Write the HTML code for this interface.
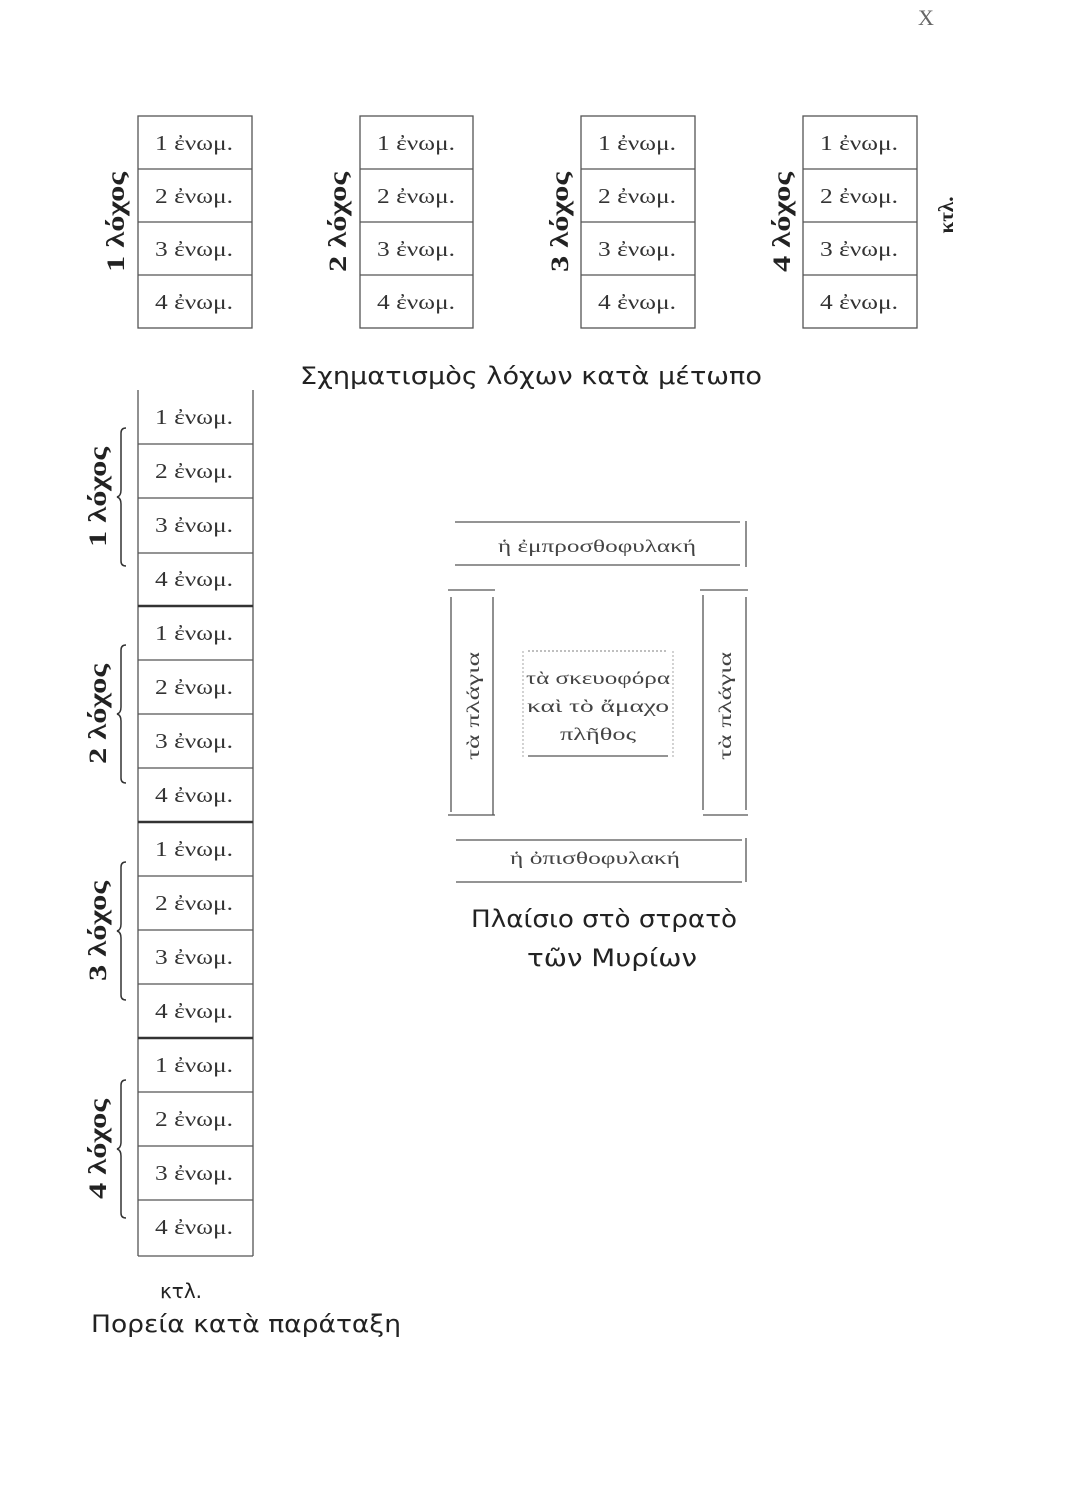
<!DOCTYPE html>
<html><head><meta charset="utf-8"><style>
html,body{margin:0;padding:0;background:#fff;}
svg{display:block;}
text{font-family:"Liberation Serif","DejaVu Serif",serif;fill:#333;}
.c{font-size:21px;}
.b{font-size:25px;font-weight:bold;fill:#222;}
.t{font-size:24px;fill:#222;font-family:"DejaVu Sans","Liberation Sans",sans-serif;}
.s{font-size:18px;fill:#444;}
</style></head><body>
<svg width="1090" height="1500" viewBox="0 0 1090 1500" xmlns="http://www.w3.org/2000/svg">
<rect width="1090" height="1500" fill="#fff"/>
<text x="918" y="25" style="font-size:22px;fill:#666" font-family="Liberation Sans">X</text>

<g stroke="#555" stroke-width="1.3" fill="none">
  <rect x="138" y="116" width="114" height="212"/>
  <line x1="138" y1="169" x2="252" y2="169"/><line x1="138" y1="222" x2="252" y2="222"/><line x1="138" y1="275" x2="252" y2="275"/>
  <rect x="360" y="116" width="113" height="212"/>
  <line x1="360" y1="169" x2="473" y2="169"/><line x1="360" y1="222" x2="473" y2="222"/><line x1="360" y1="275" x2="473" y2="275"/>
  <rect x="581" y="116" width="114" height="212"/>
  <line x1="581" y1="169" x2="695" y2="169"/><line x1="581" y1="222" x2="695" y2="222"/><line x1="581" y1="275" x2="695" y2="275"/>
  <rect x="803" y="116" width="114" height="212"/>
  <line x1="803" y1="169" x2="917" y2="169"/><line x1="803" y1="222" x2="917" y2="222"/><line x1="803" y1="275" x2="917" y2="275"/>
</g>
<g lengthAdjust="spacingAndGlyphs">
  <text class="c" x="155" y="150" textLength="78" lengthAdjust="spacingAndGlyphs">1 ἐνωμ.</text><text class="c" x="155" y="203" textLength="78" lengthAdjust="spacingAndGlyphs">2 ἐνωμ.</text><text class="c" x="155" y="256" textLength="78" lengthAdjust="spacingAndGlyphs">3 ἐνωμ.</text><text class="c" x="155" y="309" textLength="78" lengthAdjust="spacingAndGlyphs">4 ἐνωμ.</text>
  <text class="c" x="377" y="150" textLength="78" lengthAdjust="spacingAndGlyphs">1 ἐνωμ.</text><text class="c" x="377" y="203" textLength="78" lengthAdjust="spacingAndGlyphs">2 ἐνωμ.</text><text class="c" x="377" y="256" textLength="78" lengthAdjust="spacingAndGlyphs">3 ἐνωμ.</text><text class="c" x="377" y="309" textLength="78" lengthAdjust="spacingAndGlyphs">4 ἐνωμ.</text>
  <text class="c" x="598" y="150" textLength="78" lengthAdjust="spacingAndGlyphs">1 ἐνωμ.</text><text class="c" x="598" y="203" textLength="78" lengthAdjust="spacingAndGlyphs">2 ἐνωμ.</text><text class="c" x="598" y="256" textLength="78" lengthAdjust="spacingAndGlyphs">3 ἐνωμ.</text><text class="c" x="598" y="309" textLength="78" lengthAdjust="spacingAndGlyphs">4 ἐνωμ.</text>
  <text class="c" x="820" y="150" textLength="78" lengthAdjust="spacingAndGlyphs">1 ἐνωμ.</text><text class="c" x="820" y="203" textLength="78" lengthAdjust="spacingAndGlyphs">2 ἐνωμ.</text><text class="c" x="820" y="256" textLength="78" lengthAdjust="spacingAndGlyphs">3 ἐνωμ.</text><text class="c" x="820" y="309" textLength="78" lengthAdjust="spacingAndGlyphs">4 ἐνωμ.</text>
</g>
<text class="b" transform="translate(124,222) rotate(-90)" text-anchor="middle" textLength="100" lengthAdjust="spacingAndGlyphs">1 λόχος</text>
<text class="b" transform="translate(346,222) rotate(-90)" text-anchor="middle" textLength="100" lengthAdjust="spacingAndGlyphs">2 λόχος</text>
<text class="b" transform="translate(568,222) rotate(-90)" text-anchor="middle" textLength="100" lengthAdjust="spacingAndGlyphs">3 λόχος</text>
<text class="b" transform="translate(790,222) rotate(-90)" text-anchor="middle" textLength="100" lengthAdjust="spacingAndGlyphs">4 λόχος</text>
<text class="b" transform="translate(953,215) rotate(-90)" text-anchor="middle" style="font-size:21px">κτλ.</text>

<text class="t" x="300" y="384" textLength="462" lengthAdjust="spacingAndGlyphs">Σχηματισμὸς λόχων κατὰ μέτωπο</text>

<g stroke="#555" stroke-width="1.3" fill="none">
  <line x1="138" y1="390" x2="138" y2="1256"/><line x1="253" y1="390" x2="253" y2="1256"/>
  <line x1="138" y1="1256" x2="253" y2="1256"/>
  <line x1="138" y1="444" x2="253" y2="444"/><line x1="138" y1="498" x2="253" y2="498"/><line x1="138" y1="553" x2="253" y2="553"/>
  <line x1="138" y1="660" x2="253" y2="660"/><line x1="138" y1="714" x2="253" y2="714"/><line x1="138" y1="768" x2="253" y2="768"/>
  <line x1="138" y1="876" x2="253" y2="876"/><line x1="138" y1="930" x2="253" y2="930"/><line x1="138" y1="984" x2="253" y2="984"/>
  <line x1="138" y1="1092" x2="253" y2="1092"/><line x1="138" y1="1146" x2="253" y2="1146"/><line x1="138" y1="1200" x2="253" y2="1200"/>
</g>
<g stroke="#333" stroke-width="2.6">
  <line x1="138" y1="606" x2="253" y2="606"/><line x1="138" y1="822" x2="253" y2="822"/><line x1="138" y1="1038" x2="253" y2="1038"/>
</g>
<g>
  <text class="c" x="155" y="424" textLength="78" lengthAdjust="spacingAndGlyphs">1 ἐνωμ.</text><text class="c" x="155" y="478" textLength="78" lengthAdjust="spacingAndGlyphs">2 ἐνωμ.</text><text class="c" x="155" y="532" textLength="78" lengthAdjust="spacingAndGlyphs">3 ἐνωμ.</text><text class="c" x="155" y="586" textLength="78" lengthAdjust="spacingAndGlyphs">4 ἐνωμ.</text>
  <text class="c" x="155" y="640" textLength="78" lengthAdjust="spacingAndGlyphs">1 ἐνωμ.</text><text class="c" x="155" y="694" textLength="78" lengthAdjust="spacingAndGlyphs">2 ἐνωμ.</text><text class="c" x="155" y="748" textLength="78" lengthAdjust="spacingAndGlyphs">3 ἐνωμ.</text><text class="c" x="155" y="802" textLength="78" lengthAdjust="spacingAndGlyphs">4 ἐνωμ.</text>
  <text class="c" x="155" y="856" textLength="78" lengthAdjust="spacingAndGlyphs">1 ἐνωμ.</text><text class="c" x="155" y="910" textLength="78" lengthAdjust="spacingAndGlyphs">2 ἐνωμ.</text><text class="c" x="155" y="964" textLength="78" lengthAdjust="spacingAndGlyphs">3 ἐνωμ.</text><text class="c" x="155" y="1018" textLength="78" lengthAdjust="spacingAndGlyphs">4 ἐνωμ.</text>
  <text class="c" x="155" y="1072" textLength="78" lengthAdjust="spacingAndGlyphs">1 ἐνωμ.</text><text class="c" x="155" y="1126" textLength="78" lengthAdjust="spacingAndGlyphs">2 ἐνωμ.</text><text class="c" x="155" y="1180" textLength="78" lengthAdjust="spacingAndGlyphs">3 ἐνωμ.</text><text class="c" x="155" y="1234" textLength="78" lengthAdjust="spacingAndGlyphs">4 ἐνωμ.</text>
</g>
<g stroke="#333" stroke-width="1.5" fill="none">
  <path d="M126,428 Q121,428 121,433 L121,490 Q121,496 117,497 Q121,498 121,504 L121,561 Q121,566 126,566"/>
  <path d="M126,645 Q121,645 121,650 L121,707 Q121,713 117,714 Q121,715 121,721 L121,778 Q121,783 126,783"/>
  <path d="M126,862 Q121,862 121,867 L121,924 Q121,930 117,931 Q121,932 121,938 L121,995 Q121,1000 126,1000"/>
  <path d="M126,1080 Q121,1080 121,1085 L121,1142 Q121,1148 117,1149 Q121,1150 121,1156 L121,1213 Q121,1218 126,1218"/>
</g>
<text class="b" transform="translate(106,497) rotate(-90)" text-anchor="middle" textLength="100" lengthAdjust="spacingAndGlyphs">1 λόχος</text>
<text class="b" transform="translate(106,714) rotate(-90)" text-anchor="middle" textLength="100" lengthAdjust="spacingAndGlyphs">2 λόχος</text>
<text class="b" transform="translate(106,931) rotate(-90)" text-anchor="middle" textLength="100" lengthAdjust="spacingAndGlyphs">3 λόχος</text>
<text class="b" transform="translate(106,1149) rotate(-90)" text-anchor="middle" textLength="100" lengthAdjust="spacingAndGlyphs">4 λόχος</text>

<text class="t" x="160" y="1298" style="font-size:20px">κτλ.</text>
<text class="t" x="91" y="1332" textLength="310" lengthAdjust="spacingAndGlyphs">Πορεία κατὰ παράταξη</text>

<g stroke="#555" stroke-width="1.3" fill="none">
  <line x1="455" y1="522" x2="740" y2="522"/><line x1="455" y1="565" x2="740" y2="565"/><line x1="746" y1="521" x2="746" y2="567"/>
  <line x1="448" y1="590" x2="495" y2="590"/><line x1="451" y1="597" x2="451" y2="812"/><line x1="493" y1="597" x2="493" y2="815"/><line x1="448" y1="815" x2="495" y2="815"/>
  <line x1="700" y1="590" x2="748" y2="590"/><line x1="703" y1="595" x2="703" y2="810"/><line x1="746" y1="597" x2="746" y2="810"/><line x1="703" y1="815" x2="748" y2="815"/>
  <line x1="528" y1="651" x2="668" y2="651" stroke-dasharray="2,2" stroke="#999"/>
  <line x1="523" y1="651" x2="523" y2="757" stroke-dasharray="2,2" stroke="#bbb"/>
  <line x1="673" y1="651" x2="673" y2="757" stroke-dasharray="2,2" stroke="#bbb"/>
  <line x1="528" y1="756" x2="668" y2="756"/>
  <line x1="456" y1="840" x2="742" y2="840"/><line x1="746" y1="838" x2="746" y2="882"/><line x1="456" y1="882" x2="742" y2="882"/>
</g>
<text class="s" x="498" y="552" textLength="198" lengthAdjust="spacingAndGlyphs">ἡ ἐμπροσθοφυλακή</text>
<text class="s" x="510" y="864" textLength="170" lengthAdjust="spacingAndGlyphs">ἡ ὀπισθοφυλακή</text>
<text class="s" transform="translate(479,706) rotate(-90)" text-anchor="middle" textLength="108" lengthAdjust="spacingAndGlyphs">τὰ πλάγια</text>
<text class="s" transform="translate(731,706) rotate(-90)" text-anchor="middle" textLength="108" lengthAdjust="spacingAndGlyphs">τὰ πλάγια</text>
<text class="s" x="526" y="684" textLength="144" lengthAdjust="spacingAndGlyphs">τὰ σκευοφόρα</text>
<text class="s" x="527" y="712" textLength="142" lengthAdjust="spacingAndGlyphs">καὶ τὸ ἄμαχο</text>
<text class="s" x="598" y="740" text-anchor="middle" textLength="76" lengthAdjust="spacingAndGlyphs">πλῆθος</text>

<text class="t" x="604" y="927" text-anchor="middle" textLength="266" lengthAdjust="spacingAndGlyphs">Πλαίσιο στὸ στρατὸ</text>
<text class="t" x="612" y="966" text-anchor="middle" textLength="170" lengthAdjust="spacingAndGlyphs">τῶν Μυρίων</text>
</svg>
</body></html>
